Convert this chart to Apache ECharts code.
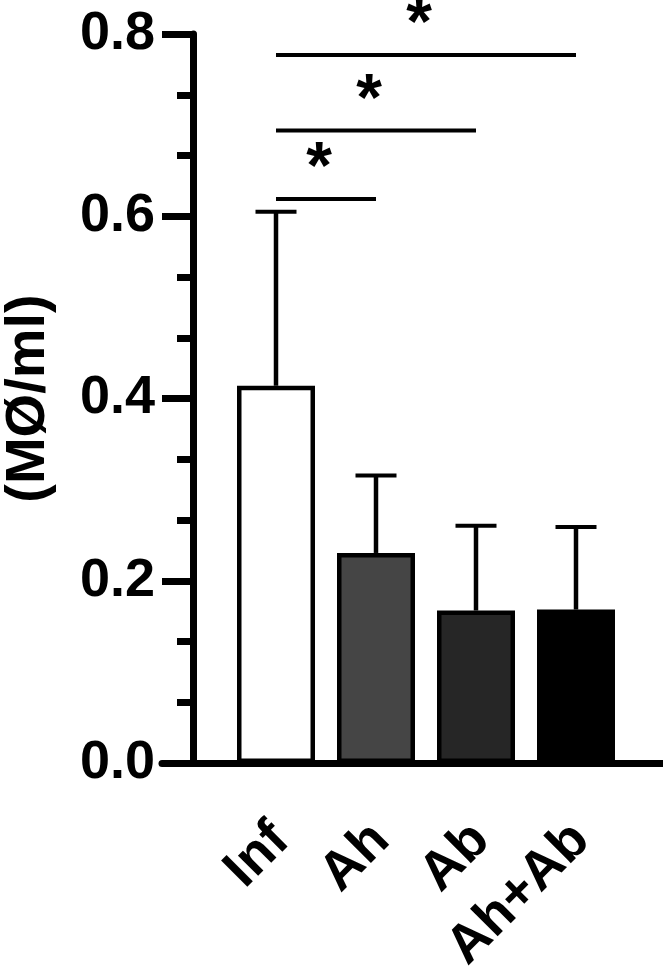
<!DOCTYPE html>
<html>
<head>
<meta charset="utf-8">
<script src="https://cdn.jsdelivr.net/npm/echarts@6/dist/echarts.min.js"></script>
<style>
html, body { margin: 0; padding: 0; background: #fff; }
#chart { width: 663px; height: 970px; }
</style>
</head>
<body>
<div id="chart"></div>
<script>
// groups and values
var groups = ['Inf', 'Ah', 'Ab', 'Ah+Ab'];
var means = [0.414, 0.2305, 0.1673, 0.1684];
var sds = [0.191, 0.085, 0.093, 0.0905];
var fills = ['#ffffff', '#454545', '#262626', '#000000'];
var yTicks = [0, 0.2, 0.4, 0.6, 0.8];
// significance brackets: from group, to group, height, mark
var sigFrom = [0, 0, 0];
var sigTo = [1, 2, 3];
var sigY = [0.619, 0.694, 0.777];
var sigText = ['*', '*', '*'];

var font = 'Liberation Sans, Arial, Helvetica, sans-serif';
var chart = echarts.init(document.getElementById('chart'));

var option = {
    animation: false,
    grid: [
        {left: 226, right: 37, top: 34, bottom: 207, outerBoundsMode: 'none', containLabel: false},
        {left: 162, right: 0, top: 34, bottom: 207, outerBoundsMode: 'none', containLabel: false}
    ],
    xAxis: [{
        type: 'category',
        gridIndex: 0,
        data: groups,
        axisLine: {show: false},
        axisTick: {alignWithLabel: true, length: 31, lineStyle: {color: '#000', width: 7}},
        axisLabel: {
            interval: 0, rotate: 45, margin: 64,
            verticalAlign: 'top', lineHeight: 14,
            color: '#000', fontSize: 54, fontWeight: 'bold', fontFamily: font
        },
        splitLine: {show: false}
    }, {
        // long baseline running under the whole plot
        type: 'value',
        gridIndex: 1,
        min: 0, max: 1,
        axisLine: {show: true, lineStyle: {color: '#000', width: 7}},
        axisTick: {show: false},
        axisLabel: {show: false},
        splitLine: {show: false}
    }],
    yAxis: [{
        type: 'value',
        gridIndex: 0,
        min: yTicks[0],
        max: yTicks[yTicks.length - 1],
        interval: 0.2,
        offset: 33,
        name: '(MØ/ml)',
        nameLocation: 'middle',
        nameGap: 136,
        nameTextStyle: {color: '#000', fontSize: 56, fontWeight: 'bold', fontFamily: font},
        axisLine: {show: true, lineStyle: {color: '#000', width: 7}},
        axisTick: {show: true, length: 31, lineStyle: {color: '#000', width: 7}},
        minorTick: {show: true, splitNumber: 3, length: 16, lineStyle: {color: '#000', width: 7}},
        axisLabel: {
            margin: 38,
            formatter: function (v) { return v.toFixed(1); },
            color: '#000', fontSize: 54, fontWeight: 'bold', fontFamily: font
        },
        splitLine: {show: false}
    }, {
        type: 'value', gridIndex: 1, show: false
    }],
    series: [{
        type: 'bar',
        xAxisIndex: 0, yAxisIndex: 0,
        barWidth: 78,
        data: means.map(function (v, i) {
            return {value: v, itemStyle: {color: fills[i]}};
        }),
        itemStyle: {borderColor: '#000', borderWidth: 4.5},
        z: 2
    }, {
        // upper error bars
        type: 'custom',
        xAxisIndex: 0, yAxisIndex: 0,
        z: 3,
        encode: {x: 0, y: [1, 2]},
        data: means.map(function (m, i) { return [i, m, m + sds[i]]; }),
        renderItem: function (params, api) {
            var base = api.coord([api.value(0), api.value(1)]);
            var top = api.coord([api.value(0), api.value(2)]);
            var half = 20.5;
            return {
                type: 'group',
                children: [{
                    type: 'line',
                    shape: {x1: base[0], y1: base[1], x2: top[0], y2: top[1]},
                    style: {stroke: '#000', lineWidth: 4.5}
                }, {
                    type: 'line',
                    shape: {x1: top[0] - half, y1: top[1], x2: top[0] + half, y2: top[1]},
                    style: {stroke: '#000', lineWidth: 4}
                }]
            };
        }
    }, {
        // significance brackets
        type: 'custom',
        xAxisIndex: 0, yAxisIndex: 0,
        z: 3,
        encode: {x: [0, 1], y: 2},
        data: sigFrom.map(function (f, i) { return [f, sigTo[i], sigY[i], sigText[i]]; }),
        renderItem: function (params, api) {
            var a = api.coord([api.value(0), api.value(2)]);
            var b = api.coord([api.value(1), api.value(2)]);
            return {
                type: 'group',
                children: [{
                    type: 'line',
                    shape: {x1: a[0], y1: a[1], x2: b[0], y2: b[1]},
                    style: {stroke: '#000', lineWidth: 4}
                }, {
                    type: 'text',
                    x: (a[0] + b[0]) / 2 - 7,
                    y: a[1] - 29,
                    style: {
                        text: sigText[params.dataIndex],
                        fill: '#000', fontSize: 66, fontWeight: 'bold', fontFamily: font,
                        align: 'center', verticalAlign: 'middle'
                    }
                }]
            };
        }
    }]
};

chart.setOption(option);
</script>
</body>
</html>
